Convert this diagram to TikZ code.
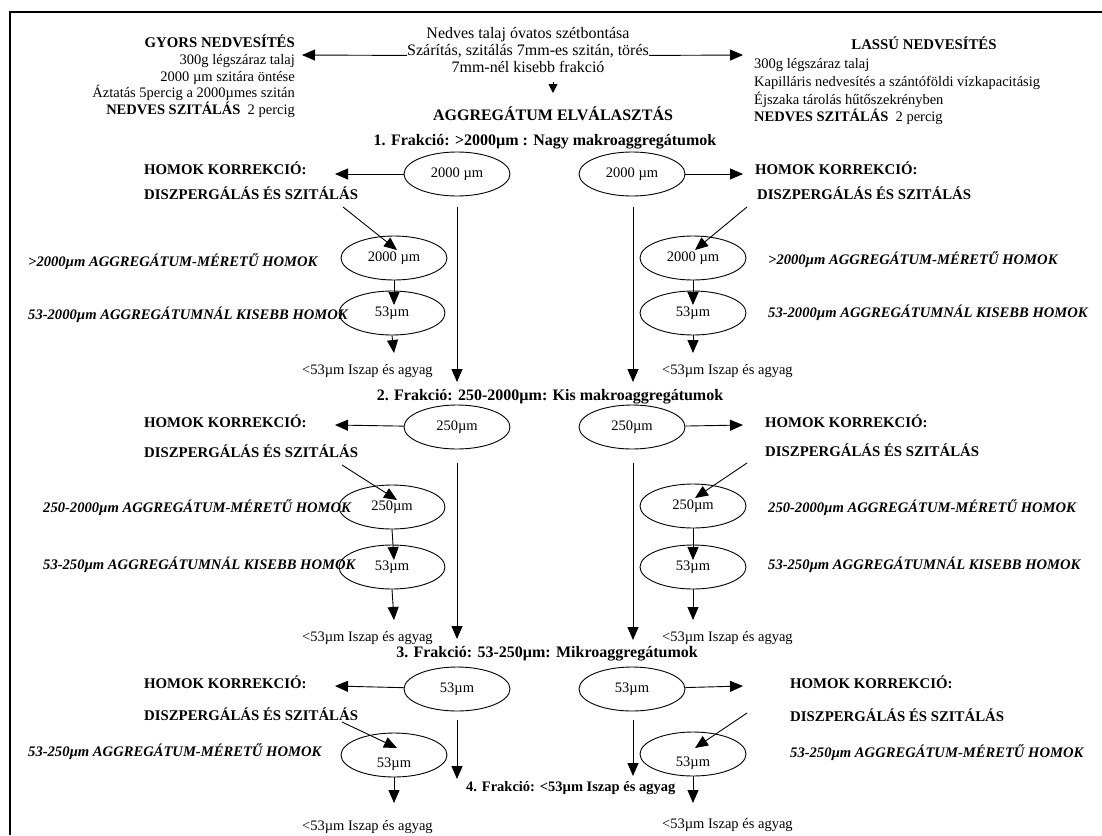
\documentclass[tikz,border=0pt]{standalone}
\usepackage{fontspec}
\setmainfont{Liberation Serif}
\usetikzlibrary{arrows.meta,shapes.geometric}
\tikzset{
  txt/.style={inner sep=0pt, text height=9.6pt, text depth=0pt, font=\fontsize{14.5}{17}\selectfont},
  ctxt/.style={inner sep=0pt, text height=10.5pt, text depth=0pt, font=\fontsize{16}{18}\selectfont},
  bhead/.style={txt, font=\fontsize{14.8}{17}\selectfont\bfseries},
  frak/.style={inner sep=0pt, text height=10.5pt, text depth=0pt, font=\fontsize{16}{18}\selectfont\bfseries},
  lbl/.style={txt, font=\fontsize{14.6}{17}\selectfont\bfseries\itshape},
  ell/.style={draw, ellipse, line width=0.9pt, inner sep=0pt, minimum width=106pt, minimum height=44pt, font=\fontsize{14.5}{17}\selectfont},
  arr/.style={-{Triangle[length=13pt,width=11pt]}, line width=0.9pt},
  small/.style={-{Triangle[length=9pt,width=9pt]}, line width=0.9pt}
}
\begin{document}
\begin{tikzpicture}[x=1pt,y=-1pt]
\useasboundingbox (0,0) rectangle (1102,835);
\draw[line width=1.8pt] (10,835) -- (10,12) -- (1102,12);

% top centre
\node[ctxt] (t1) at (528,33) {Nedves talaj óvatos szétbontása};
\node[ctxt] (t2) at (528,50) {Szárítás, szitálás 7mm-es szitán, törés};
\node[ctxt] (t3) at (528,67) {7mm-nél kisebb frakció};
\coordinate (gyT) at (302,55);
\coordinate (laT) at (743,55);
\draw[arr] (t2.south west) -- (gyT);
\draw[arr] (t2.south east) -- (laT);
\coordinate (dn0) at (553,82);
\coordinate (dn1) at (553,93);
\draw[small] (dn0) -- (dn1);

% left block
\node[bhead, anchor=east] (g0) at (295,43) {GYORS NEDVESÍTÉS};
\node[txt, anchor=east] (g1) at (295,60) {300g légszáraz talaj};
\node[txt, anchor=east] (g2) at (295,77) {2000 µm szitára öntése};
\node[txt, anchor=east] (g3) at (295,93) {Áztatás 5percig a 2000µmes szitán};
\node[txt, anchor=east] (g4) at (295,110) {\textbf{NEDVES SZITÁLÁS}\ \ 2 percig};

% right block
\node[bhead] (r0) at (924,45) {LASSÚ NEDVESÍTÉS};
\node[txt, anchor=west] (r1) at (754,64) {300g légszáraz talaj};
\node[txt, anchor=west] (r2) at (754,82) {Kapilláris nedvesítés a szántóföldi vízkapacitásig};
\node[txt, anchor=west] (r3) at (754,100) {Éjszaka tárolás hűtőszekrényben};
\node[txt, anchor=west] (r4) at (754,117) {\textbf{NEDVES SZITÁLÁS}\ \ 2 percig};

\node[frak] (agg) at (553,115) {AGGREGÁTUM ELVÁLASZTÁS};
\node[frak] (f1) at (545,140) {1. Frakció: >2000µm : Nagy makroaggregátumok};

% ---------- row 1
\node[ell] (m1L) at (457,174) {2000 µm};
\node[ell] (m1R) at (632,174) {2000 µm};
\node[bhead, anchor=west] (h1L) at (144,170) {HOMOK KORREKCIÓ:};
\node[bhead, anchor=west] (h1R) at (755,170) {HOMOK KORREKCIÓ:};
\coordinate (h1Lt) at (335,174);
\coordinate (h1Rt) at (743,174);
\draw[arr] (m1L) -- (h1Lt);
\draw[arr] (m1R) -- (h1Rt);
\node[bhead, anchor=west] (d1L) at (144,195) {DISZPERGÁLÁS ÉS SZITÁLÁS};
\node[bhead, anchor=west] (d1R) at (757,195) {DISZPERGÁLÁS ÉS SZITÁLÁS};
\coordinate (q1La) at (343,207); \coordinate (q1Lb) at (397,250);
\coordinate (q1Ra) at (747,207); \coordinate (q1Rb) at (695,250);
\draw[arr] (q1La) -- (q1Lb);
\draw[arr] (q1Ra) -- (q1Rb);
\node[ell] (s1L) at (394,258) {2000 µm};
\node[ell] (s1R) at (693,258) {2000 µm};
\node[lbl, anchor=west] (l1L) at (28,262) {>2000µm AGGREGÁTUM-MÉRETŰ HOMOK};
\node[lbl, anchor=west] (l1R) at (768,260) {>2000µm AGGREGÁTUM-MÉRETŰ HOMOK};
\coordinate (a1L) at (394,305); \coordinate (a1R) at (693,305);
\draw[arr] (s1L.south) -- (a1L);
\draw[arr] (s1R.south) -- (a1R);
\node[ell] (u1L) at (392,313) {53µm};
\node[ell] (u1R) at (693,313) {53µm};
\node[lbl, anchor=west] (k1L) at (28,315) {53-2000µm AGGREGÁTUMNÁL KISEBB HOMOK};
\node[lbl, anchor=west] (k1R) at (768,313) {53-2000µm AGGREGÁTUMNÁL KISEBB HOMOK};
\coordinate (b1L) at (394,353); \coordinate (b1R) at (693,353);
\draw[arr] (u1L.south) -- (b1L);
\draw[arr] (u1R.south) -- (b1R);
\node[txt, anchor=west] (i1L) at (302,370) {<53µm Iszap és agyag};
\node[txt, anchor=west] (i1R) at (662,370) {<53µm Iszap és agyag};
\coordinate (v1L) at (457,382); \coordinate (v1R) at (633,382);
\coordinate (w1L) at (457,207); \coordinate (w1R) at (633,207);
\draw[arr] (w1L) -- (v1L);
\draw[arr] (w1R) -- (v1R);

\node[frak] (f2) at (550,395) {2. Frakció: 250-2000µm: Kis makroaggregátumok};

% ---------- row 2
\node[ell] (m2L) at (457,427) {250µm};
\node[ell] (m2R) at (632,427) {250µm};
\node[bhead, anchor=west] (h2L) at (144,423) {HOMOK KORREKCIÓ:};
\node[bhead, anchor=west] (h2R) at (765,423) {HOMOK KORREKCIÓ:};
\coordinate (h2Lt) at (335,425);
\coordinate (h2Rt) at (743,425);
\draw[arr] (m2L) -- (h2Lt);
\draw[arr] (m2R) -- (h2Rt);
\node[bhead, anchor=west] (d2L) at (144,453) {DISZPERGÁLÁS ÉS SZITÁLÁS};
\node[bhead, anchor=west] (d2R) at (765,452) {DISZPERGÁLÁS ÉS SZITÁLÁS};
\coordinate (q2La) at (342,465); \coordinate (q2Lb) at (397,500);
\coordinate (q2Ra) at (747,463); \coordinate (q2Rb) at (695,498);
\draw[arr] (q2La) -- (q2Lb);
\draw[arr] (q2Ra) -- (q2Rb);
\node[ell] (s2L) at (392,507) {250µm};
\node[ell] (s2R) at (693,506) {250µm};
\node[lbl, anchor=west] (l2L) at (43,508) {250-2000µm AGGREGÁTUM-MÉRETŰ HOMOK};
\node[lbl, anchor=west] (l2R) at (768,508) {250-2000µm AGGREGÁTUM-MÉRETŰ HOMOK};
\coordinate (a2L) at (394,560); \coordinate (a2R) at (693,560);
\draw[arr] (s2L.south) -- (a2L);
\draw[arr] (s2R.south) -- (a2R);
\node[ell] (u2L) at (392,567) {53µm};
\node[ell] (u2R) at (693,567) {53µm};
\node[lbl, anchor=west] (k2L) at (43,565) {53-250µm AGGREGÁTUMNÁL KISEBB HOMOK};
\node[lbl, anchor=west] (k2R) at (768,565) {53-250µm AGGREGÁTUMNÁL KISEBB HOMOK};
\coordinate (b2L) at (394,620); \coordinate (b2R) at (693,620);
\draw[arr] (u2L.south) -- (b2L);
\draw[arr] (u2R.south) -- (b2R);
\node[txt, anchor=west] (i2L) at (302,637) {<53µm Iszap és agyag};
\node[txt, anchor=west] (i2R) at (662,637) {<53µm Iszap és agyag};
\coordinate (v2L) at (457,639); \coordinate (v2R) at (633,640);
\coordinate (w2L) at (457,463); \coordinate (w2R) at (633,463);
\draw[arr] (w2L) -- (v2L);
\draw[arr] (w2R) -- (v2R);

\node[frak] (f3) at (547,652) {3. Frakció: 53-250µm: Mikroaggregátumok};

% ---------- row 3
\node[ell] (m3L) at (457,689) {53µm};
\node[ell] (m3R) at (632,689) {53µm};
\node[bhead, anchor=west] (h3L) at (144,684) {HOMOK KORREKCIÓ:};
\node[bhead, anchor=west] (h3R) at (790,684) {HOMOK KORREKCIÓ:};
\coordinate (h3Lt) at (335,686);
\coordinate (h3Rt) at (743,686);
\draw[arr] (m3L) -- (h3Lt);
\draw[arr] (m3R) -- (h3Rt);
\node[bhead, anchor=west] (d3L) at (144,716) {DISZPERGÁLÁS ÉS SZITÁLÁS};
\node[bhead, anchor=west] (d3R) at (790,717) {DISZPERGÁLÁS ÉS SZITÁLÁS};
\coordinate (q3La) at (342,722); \coordinate (q3Lb) at (397,748);
\coordinate (q3Ra) at (747,713); \coordinate (q3Rb) at (695,748);
\draw[arr] (q3La) -- (q3Lb);
\draw[arr] (q3Ra) -- (q3Rb);
\node[ell] (s3L) at (394,755) {};
\node[ell] (s3R) at (693,754) {};
\node[txt] (s3Lt) at (394,763) {53µm};
\node[txt] (s3Rt) at (693,762) {53µm};
\node[lbl, anchor=west] (l3L) at (28,752) {53-250µm AGGREGÁTUM-MÉRETŰ HOMOK};
\node[lbl, anchor=west] (l3R) at (790,753) {53-250µm AGGREGÁTUM-MÉRETŰ HOMOK};
\coordinate (b3L) at (394,803); \coordinate (b3R) at (693,803);
\draw[arr] (s3L.south) -- (b3L);
\draw[arr] (s3R.south) -- (b3R);
\node[txt, anchor=west] (i3L) at (302,826) {<53µm Iszap és agyag};
\node[txt, anchor=west] (i3R) at (662,824) {<53µm Iszap és agyag};
\coordinate (v3L) at (457,779); \coordinate (v3R) at (633,776);
\coordinate (w3L) at (457,720); \coordinate (w3R) at (633,720);
\draw[arr] (w3L) -- (v3L);
\draw[arr] (w3R) -- (v3R);
\node[bhead, anchor=west, font=\fontsize{14.5}{17}\selectfont\bfseries] (f4) at (466,787) {4. Frakció: <53µm Iszap és agyag};
\end{tikzpicture}
\end{document}
